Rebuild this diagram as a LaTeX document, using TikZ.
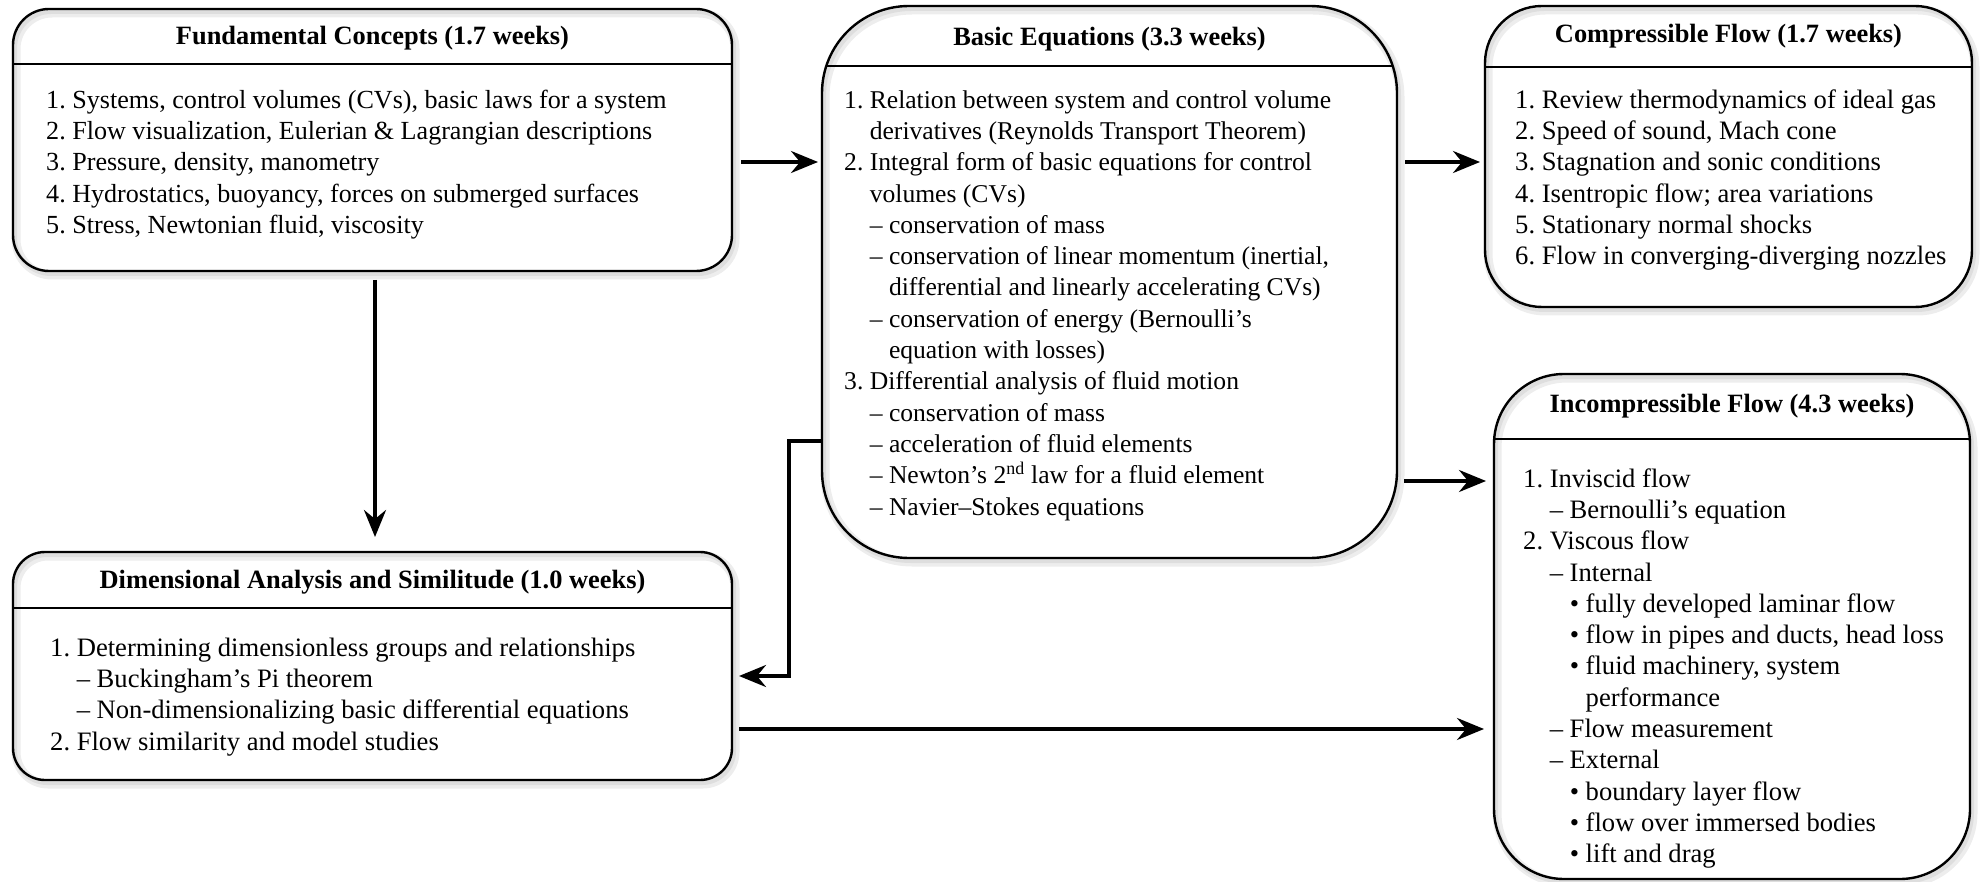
\documentclass[tikz,border=0pt]{standalone}
\usepackage{fontspec}
\setmainfont{Liberation Serif}
\usetikzlibrary{arrows.meta,backgrounds,calc}
\newcommand{\Ia}{\phantom{1.~}}
\newcommand{\Ib}{\phantom{1.~–~}}
\newcommand{\Ic}{\phantom{1.~–~•~}}
\begin{document}
\begin{tikzpicture}[x=1pt,y=-1pt,
  box/.style={draw=black, line width=2.4pt, rounded corners=#1, inner sep=0pt, outer sep=0pt, anchor=north west},
  hline/.style={draw=black, line width=2.4pt},
  shadowA/.style={draw=black!7, line width=9pt, rounded corners=#1},
  shadowB/.style={draw=black!13, line width=4pt, rounded corners=#1},
  titletext/.style={font=\fontsize{26.4}{31}\selectfont\bfseries, inner sep=0pt},
  bodytext/.style={font=\fontsize{#1}{31.3}\selectfont, align=left, anchor=north west, inner sep=0pt},
  conn/.style={line width=3.6pt, -{Stealth[length=27pt,width=22pt,inset=9pt]}},
  ]
\useasboundingbox (0,0) rectangle (1980,882);

% boxes
\node[box=36pt, minimum width=719pt, minimum height=262pt] (fund) at (13,9) {};
\node[box=87pt, minimum width=575pt, minimum height=552pt] (basic) at (822,6) {};
\node[box=57pt, minimum width=487pt, minimum height=301pt] (comp) at (1485,6) {};
\node[box=32pt, minimum width=719pt, minimum height=228pt] (dim) at (13,552) {};
\node[box=70pt, minimum width=476pt, minimum height=505pt] (inc) at (1494,374) {};

% header lines
\draw[hline] ($(fund.north west)+(0,55)$) -- ($(fund.north east)+(0,55)$);
\draw[hline] ($(basic.north west)+(4.2,60)$) -- ($(basic.north east)+(-4.2,60)$);
\draw[hline] ($(comp.north west)+(0,61)$) -- ($(comp.north east)+(0,61)$);
\draw[hline] ($(dim.north west)+(0,56)$) -- ($(dim.north east)+(0,56)$);
\draw[hline] ($(inc.north west)+(0.3,65)$) -- ($(inc.north east)+(-0.3,65)$);

% shadows
\begin{scope}[on background layer]
\foreach \n/\r in {fund/36pt,basic/87pt,comp/57pt,dim/32pt,inc/70pt}{
  \draw[shadowA=\r] ($(\n.north west)+(3,4)$) rectangle ($(\n.south east)+(3,4)$);
  \draw[shadowB=\r] ($(\n.north west)+(2,3)$) rectangle ($(\n.south east)+(2,3)$);
}
\end{scope}

% titles
\node[titletext] (fundT) at ($(fund.north)+(0,29)$) {Fundamental Concepts (1.7 weeks)};
\node[titletext] (basicT) at ($(basic.north)+(0,33)$) {Basic Equations (3.3 weeks)};
\node[titletext] (compT) at ($(comp.north)+(0,30)$) {Compressible Flow (1.7 weeks)};
\node[titletext] (dimT) at ($(dim.north)+(0,30)$) {Dimensional Analysis and Similitude (1.0 weeks)};
\node[titletext] (incT) at ($(inc.north)+(0,32)$) {Incompressible Flow (4.3 weeks)};

% bodies
\node[bodytext=26.1] (fundB) at (46,86) {\strut 1.~Systems, control volumes (CVs), basic laws for a system\\
\strut 2.~Flow visualization, Eulerian \& Lagrangian descriptions\\
\strut 3.~Pressure, density, manometry\\
\strut 4.~Hydrostatics, buoyancy, forces on submerged surfaces\\
\strut 5.~Stress, Newtonian fluid, viscosity};

\node[bodytext=25.6] (basicB) at (844,86) {\strut 1.~Relation between system and control volume\\
\strut\Ia derivatives (Reynolds Transport Theorem)\\
\strut 2.~Integral form of basic equations for control\\
\strut\Ia volumes (CVs)\\
\strut\Ia –~conservation of mass\\
\strut\Ia –~conservation of linear momentum (inertial,\\
\strut\Ib differential and linearly accelerating CVs)\\
\strut\Ia –~conservation of energy (Bernoulli’s\\
\strut\Ib equation with losses)\\
\strut 3.~Differential analysis of fluid motion\\
\strut\Ia –~conservation of mass\\
\strut\Ia –~acceleration of fluid elements\\
\strut\Ia –~Newton’s 2\textsuperscript{nd} law for a fluid element\\
\strut\Ia –~Navier–Stokes equations};

\node[bodytext=26.6] (compB) at (1515,86) {\strut 1.~Review thermodynamics of ideal gas\\
\strut 2.~Speed of sound, Mach cone\\
\strut 3.~Stagnation and sonic conditions\\
\strut 4.~Isentropic flow; area variations\\
\strut 5.~Stationary normal shocks\\
\strut 6.~Flow in converging-diverging nozzles};

\node[bodytext=26.6] (dimB) at (50,634) {\strut 1.~Determining dimensionless groups and relationships\\
\strut\Ia –~Buckingham’s Pi theorem\\
\strut\Ia –~Non-dimensionalizing basic differential equations\\
\strut 2.~Flow similarity and model studies};

\node[bodytext=26.6] (incB) at (1523,465) {\strut 1.~Inviscid flow\\
\strut\Ia –~Bernoulli’s equation\\
\strut 2.~Viscous flow\\
\strut\Ia –~Internal\\
\strut\Ib •~fully developed laminar flow\\
\strut\Ib •~flow in pipes and ducts, head loss\\
\strut\Ib •~fluid machinery, system\\
\strut\Ic performance\\
\strut\Ia –~Flow measurement\\
\strut\Ia –~External\\
\strut\Ib •~boundary layer flow\\
\strut\Ib •~flow over immersed bodies\\
\strut\Ib •~lift and drag};

% connectors
\draw[conn] ($(fund.north east)+(9,153)$) -- ($(basic.north west)+(-4,156)$);
\draw[conn] ($(fund.south west)+(362,9)$) -- ($(dim.north west)+(362,-15)$);
\draw[conn] ($(basic.north east)+(8,156)$) -- ($(comp.north west)+(-5,156)$);
\draw[conn] ($(basic.north east)+(7,475)$) -- ($(inc.north west)+(-8,107)$);
\draw[conn] ($(basic.north west)+(-1,435)$) -- ++(-32,0) |- ($(dim.north east)+(7,124)$);
\draw[conn] ($(dim.north east)+(7,177)$) -- ($(inc.north west)+(-10,355)$);
\end{tikzpicture}
\end{document}
